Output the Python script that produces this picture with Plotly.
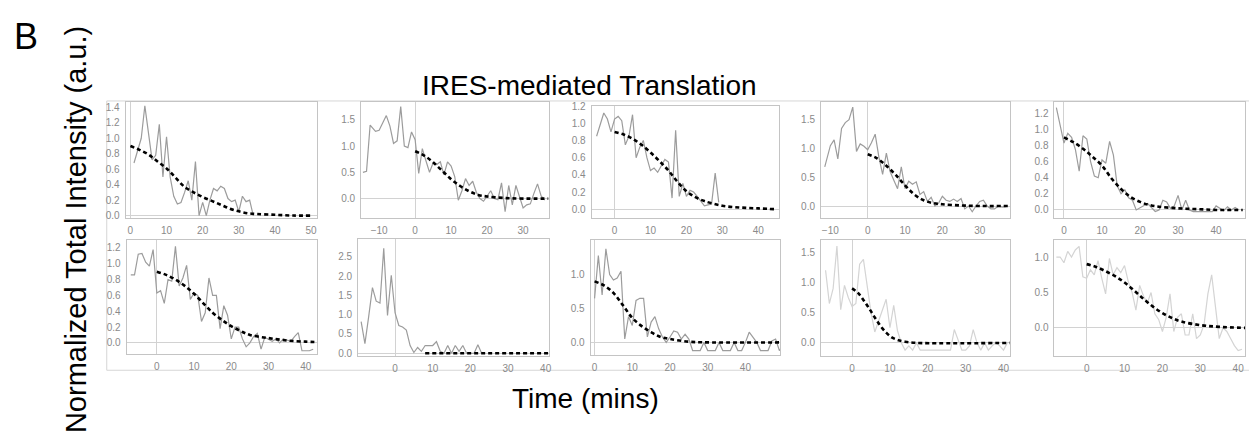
import plotly.graph_objects as go

W, H = 1249, 434

# ---------------- data ----------------
# panel 1
t1 = [1, 2, 3, 4, 5, 6, 7, 8, 9, 10, 11, 12, 13, 14, 15, 16, 17, 18, 19, 20, 21, 22, 23, 24, 25, 26, 27, 28, 29, 30, 31, 32, 33, 34]
y1 = [0.68, 0.85, 1.0, 1.42, 1.05, 0.72, 0.78, 1.18, 0.5, 1.02, 0.5, 0.25, 0.15, 0.17, 0.3, 0.45, 0.2, 0.7, 0.0, 0.17, 0.0, 0.2, 0.35, 0.32, 0.38, 0.35, 0.22, 0.18, 0.2, 0.05, 0.25, 0.18, 0.2, 0.0]
ft1 = [0, 2.5, 5, 7.5, 10, 12.5, 15, 17.5, 20, 22.5, 25, 27.5, 30, 32.5, 35, 40, 45, 50]
fy1 = [0.9, 0.85, 0.79, 0.7, 0.61, 0.49, 0.37, 0.3, 0.24, 0.19, 0.14, 0.09, 0.055, 0.03, 0.02, 0.01, 0.0, 0.0]

# panel 2
t2 = [-14.5, -13.5, -12.5, -11, -10, -9, -8, -7, -6, -5, -4, -3, -2, -1, 0, 1, 2, 3, 4, 5, 6, 7, 8, 9, 10, 11, 12, 13, 14, 15, 16, 17, 18, 19, 20, 21, 22, 23, 24, 25, 26, 27, 28, 29, 30, 31, 32, 33, 34, 35, 36]
y2 = [0.5, 0.52, 1.4, 1.28, 1.3, 1.45, 1.58, 1.38, 1.05, 1.1, 1.75, 1.0, 0.97, 1.27, 1.12, 0.48, 0.95, 0.72, 0.5, 0.68, 0.65, 0.7, 0.45, 0.7, 0.62, 0.42, -0.03, 0.15, 0.38, 0.25, 0.33, 0.12, 0.0, -0.05, 0.05, 0.15, 0.0, -0.02, 0.3, -0.25, 0.25, -0.12, 0.25, 0.05, -0.18, -0.12, -0.1, 0.1, 0.28, 0.05, -0.03]
ft2 = [0, 2.5, 5, 7.5, 10, 12.5, 15, 17.5, 20, 25, 30, 37]
fy2 = [0.9, 0.82, 0.69, 0.53, 0.37, 0.24, 0.14, 0.07, 0.04, 0.01, 0.0, 0.0]

# panel 3
t3 = [-5, -4, -3, -2, -1, 0, 1, 2, 3, 4, 5, 6, 7, 8, 9, 10, 11, 12, 13, 14, 15, 16, 17, 18, 19, 20, 21, 22, 23, 24, 25, 26, 27, 28, 29]
y3 = [0.85, 1.0, 1.12, 1.05, 0.9, 1.05, 1.08, 1.03, 0.75, 0.85, 1.1, 0.6, 0.72, 0.8, 0.6, 0.45, 0.48, 0.43, 0.5, 0.58, 0.55, 0.13, 0.92, 0.15, 0.3, 0.15, 0.22, 0.2, 0.15, 0.1, 0.04, 0.05, 0.06, 0.42, 0.08]
ft3 = [0, 2.5, 5, 7.5, 10, 12.5, 15, 17.5, 20, 22.5, 25, 30, 35, 40, 45]
fy3 = [0.9, 0.87, 0.82, 0.75, 0.66, 0.56, 0.45, 0.32, 0.21, 0.14, 0.095, 0.04, 0.02, 0.01, 0.0]

# panel 4
t4 = [-11.5, -10, -9, -8, -7, -6, -5, -4, -3, -2, -1, 0, 1, 2, 3, 4, 5, 6, 7, 8, 9, 10, 11, 12, 13, 14, 15, 16, 17, 18, 19, 20, 21, 22, 23, 24, 25, 26, 27, 28, 29, 30, 31, 32, 33, 34, 35, 36, 37]
y4 = [0.68, 1.05, 1.15, 0.82, 1.35, 1.45, 1.5, 1.72, 0.95, 1.08, 1.04, 0.98, 1.1, 1.25, 0.85, 0.55, 0.92, 0.6, 0.45, 0.3, 0.68, 0.3, 0.43, 0.38, 0.42, 0.2, 0.25, 0.08, 0.15, 0.0, 0.05, 0.17, 0.1, 0.08, 0.12, 0.08, 0.13, -0.05, 0.0, -0.1, 0.0, 0.08, 0.1, 0.0, -0.05, -0.05, 0.0, -0.02, -0.01]
ft4 = [0, 2.5, 5, 7.5, 10, 12.5, 15, 17.5, 20, 25, 30, 38]
fy4 = [0.9, 0.83, 0.7, 0.54, 0.36, 0.2, 0.1, 0.05, 0.03, 0.01, 0.0, 0.0]

# panel 5
t5 = [-2, -1, 0, 1, 2, 3, 4, 5, 6, 7, 8, 9, 10, 11, 12, 13, 14, 15, 16, 17, 18, 19, 20, 21, 22, 23, 24, 25, 26, 27, 28, 29, 30, 31, 32, 33, 34, 35, 36, 37, 38, 39, 40, 41, 42, 43, 44, 45, 46]
y5 = [1.27, 1.05, 0.83, 0.95, 0.9, 0.75, 0.48, 0.92, 0.88, 0.6, 0.42, 0.4, 0.62, 0.58, 0.85, 0.68, 0.3, 0.2, 0.25, 0.15, 0.12, 0.0, 0.03, 0.06, 0.08, 0.03, -0.02, 0.0, 0.12, 0.1, 0.02, 0.05, 0.18, 0.0, 0.12, 0.0, -0.02, -0.02, -0.02, -0.02, -0.02, -0.02, 0.05, 0.02, -0.01, 0.04, 0.0, 0.03, 0.0]
ft5 = [0, 2.5, 5, 7.5, 10, 12.5, 15, 17.5, 20, 22.5, 25, 30, 35, 40, 47]
fy5 = [0.9, 0.84, 0.76, 0.66, 0.55, 0.39, 0.26, 0.16, 0.1, 0.06, 0.04, 0.02, 0.01, 0.0, 0.0]

# panel 6
t6 = [-7, -6, -5, -4, -3, -2, -1, 0, 1, 2, 3, 4, 5, 6, 7, 8, 9, 10, 11, 12, 13, 14, 15, 16, 17, 18, 19, 20, 21, 22, 23, 24, 25, 26, 27, 28, 29, 30, 31, 32, 33, 34, 35, 36, 37, 38, 39, 40, 41, 42]
y6 = [0.86, 0.86, 1.12, 1.13, 1.02, 0.97, 1.18, 0.63, 0.66, 0.5, 0.8, 0.78, 1.22, 0.72, 0.82, 0.98, 0.55, 0.63, 0.6, 0.27, 0.38, 0.82, 0.6, 0.6, 0.18, 0.47, 0.35, 0.05, 0.2, 0.2, 0.05, -0.05, 0.0, 0.08, 0.12, -0.08, 0.07, 0.05, 0.02, 0.05, 0.0, 0.05, 0.03, 0.02, 0.08, 0.13, -0.1, -0.1, -0.1, -0.08]
ft6 = [0, 2.5, 5, 7.5, 10, 12.5, 15, 17.5, 20, 22.5, 25, 30, 35, 40, 43]
fy6 = [0.9, 0.86, 0.8, 0.72, 0.62, 0.5, 0.38, 0.29, 0.21, 0.15, 0.1, 0.06, 0.03, 0.015, 0.01]

# panel 7
t7 = [-9, -8, -7, -6, -5, -4, -3, -2, -1, 0, 1, 2, 3, 4, 5, 6, 7, 8, 9, 10, 11, 12, 13, 14, 15, 16, 17, 18, 19, 20, 21, 22, 23]
y7 = [0.82, 0.25, 0.95, 1.7, 1.35, 1.3, 2.72, 0.98, 2.02, 1.05, 0.72, 0.68, 0.6, 0.2, 0.02, 0.15, 0.05, 0.2, 0.2, 0.2, 0.3, 0.05, 0.0, 0.2, 0.0, 0.2, 0.05, 0.2, 0.0, 0.0, 0.0, 0.22, 0.0]
ft7 = [8, 15, 20, 25, 30, 35, 41]
fy7 = [0.0, 0.0, 0.0, 0.0, 0.0, 0.0, 0.0]

# panel 8
t8 = [0, 1, 2, 3, 4, 5, 6, 7, 8, 9, 10, 11, 12, 13, 14, 15, 16, 17, 18, 19, 20, 21, 22, 23, 24, 25, 26, 27, 28, 29, 30, 31, 32, 33, 34, 35, 36, 37, 38, 39, 40, 41, 42, 43, 44, 45, 46, 47, 48, 49, 50]
y8 = [0.65, 1.28, 0.7, 1.38, 1.0, 0.92, 0.95, 1.05, 0.05, 0.38, 0.25, 0.62, 0.65, 0.65, 0.08, 0.3, 0.38, 0.2, 0.08, 0.0, 0.08, 0.17, 0.15, 0.05, 0.12, 0.05, -0.12, -0.12, -0.12, 0.0, -0.12, -0.12, -0.12, 0.0, -0.12, -0.12, -0.12, 0.0, -0.12, -0.12, 0.0, 0.15, 0.08, 0.0, -0.12, -0.12, -0.12, 0.02, 0.05, -0.12, -0.05]
ft8 = [0, 2.5, 5, 7.5, 10, 12.5, 15, 17.5, 20, 25, 30, 50]
fy8 = [0.9, 0.84, 0.73, 0.55, 0.36, 0.24, 0.15, 0.08, 0.05, 0.01, 0.0, 0.0]

# panel 9
t9 = [-7, -6, -5, -4, -3, -2, -1, 0, 1, 2, 3, 4, 5, 6, 7, 8, 9, 10, 11, 12, 13, 14, 15, 16, 17, 18, 19, 20, 21, 22, 23, 24, 25, 26, 27, 28, 29, 30, 31, 32, 33, 34, 35, 36, 37, 38, 39, 40, 41]
y9 = [1.2, 0.65, 0.9, 1.6, 0.55, 0.95, 0.75, 0.6, 0.65, 1.3, 1.38, 0.95, 0.5, 0.18, 0.35, 0.55, 0.72, 0.25, 0.62, 0.2, 0.0, -0.12, -0.05, -0.12, 0.0, -0.12, -0.12, -0.12, -0.12, -0.12, -0.12, -0.12, -0.12, -0.12, 0.22, 0.05, -0.12, -0.12, -0.05, 0.22, 0.0, -0.12, 0.0, -0.12, -0.05, 0.0, -0.05, -0.12, 0.0]
ft9 = [0, 1.5, 3, 4.5, 6, 7.5, 9, 10.5, 12, 14, 17, 42]
fy9 = [0.9, 0.83, 0.71, 0.57, 0.42, 0.28, 0.17, 0.09, 0.05, 0.02, 0.0, 0.0]

# panel 10
t10 = [-8, -7, -6, -5, -4, -3, -2, -1, 0, 1, 2, 3, 4, 5, 6, 7, 8, 9, 10, 11, 12, 13, 14, 15, 16, 17, 18, 19, 20, 21, 22, 23, 24, 25, 26, 27, 28, 29, 30, 31, 32, 33, 34, 35, 36, 37, 38, 39, 40, 41]
y10 = [1.0, 1.0, 0.92, 1.08, 1.0, 1.1, 1.15, 0.72, 0.7, 0.82, 0.75, 0.95, 0.7, 0.48, 0.98, 0.75, 0.85, 0.78, 0.88, 0.65, 0.5, 0.25, 0.6, 0.45, 0.35, 0.5, 0.2, 0.12, -0.05, 0.15, 0.48, -0.05, 0.15, 0.2, -0.1, -0.1, 0.2, -0.15, -0.1, 0.05, 0.48, 0.75, 0.3, -0.15, 0.0, -0.05, -0.15, -0.25, -0.32, -0.3]
ft10 = [0, 2.5, 5, 7.5, 10, 12.5, 15, 17.5, 20, 22.5, 25, 30, 35, 42]
fy10 = [0.9, 0.86, 0.8, 0.73, 0.64, 0.53, 0.41, 0.3, 0.21, 0.14, 0.09, 0.04, 0.015, 0.0]

# tick labels
xt_0_50 = [0, 10, 20, 30, 40, 50]
xt_0_40 = [0, 10, 20, 30, 40]
xt_m10_30 = [-10, 0, 10, 20, 30]
yt_02_14 = [0.0, 0.2, 0.4, 0.6, 0.8, 1.0, 1.2, 1.4]
yt_02_12 = [0.0, 0.2, 0.4, 0.6, 0.8, 1.0, 1.2]
yt_05_15 = [0.0, 0.5, 1.0, 1.5]
yt_05_25 = [0.0, 0.5, 1.0, 1.5, 2.0, 2.5]
yt_05_10 = [0.0, 0.5, 1.0]

# text
panel_letter = "B"
title_text = "IRES-mediated Translation"
x_title = "Time (mins)"
y_title = "Normalized Total Intensity (a.u.)"

# ---------------- styling / layout ----------------
DARK = "#9c9c9c"
LIGHT = "#d4d4d4"
FRAME = "#c4c4c4"
ZERO = "#d2d2d2"
TICK = "#8a8a8a"
SANS = "Liberation Sans, Arial"

panels = [
    dict(t=t1, y=y1, ft=ft1, fy=fy1, xr=[-1.3, 51.7], yr=[-0.025, 1.47], xt=xt_0_50, yt=yt_02_14, box=(126, 318, 99, 217), c=DARK),
    dict(t=t2, y=y2, ft=ft2, fy=fy2, xr=[-15.0, 37.1], yr=[-0.36, 1.84], xt=xt_m10_30, yt=yt_05_15, box=(362, 550, 99, 217), c=DARK),
    dict(t=t3, y=y3, ft=ft3, fy=fy3, xr=[-6.4, 45.8], yr=[-0.096, 1.203], xt=xt_0_40, yt=yt_02_12, box=(593, 781, 103, 217), c=DARK),
    dict(t=t4, y=y4, ft=ft4, fy=fy4, xr=[-12.5, 38.0], yr=[-0.2, 1.81], xt=xt_m10_30, yt=yt_05_15, box=(823, 1012, 99, 217), c=DARK),
    dict(t=t5, y=y5, ft=ft5, fy=fy5, xr=[-2.5, 47.6], yr=[-0.094, 1.34], xt=xt_0_40, yt=yt_02_12, box=(1057, 1248, 99, 217), c=DARK),
    dict(t=t6, y=y6, ft=ft6, fy=fy6, xr=[-8.1, 43.1], yr=[-0.136, 1.30], xt=xt_0_40, yt=yt_02_12, box=(127, 318, 240, 356), c=DARK),
    dict(t=t7, y=y7, ft=ft7, fy=fy7, xr=[-9.8, 40.8], yr=[-0.06, 2.96], xt=xt_0_40, yt=yt_05_25, box=(359, 550, 239, 358), c=DARK),
    dict(t=t8, y=y8, ft=ft8, fy=fy8, xr=[-1.06, 49.2], yr=[-0.18, 1.51], xt=xt_0_40, yt=yt_05_10, box=(592, 782, 240, 357), c=DARK),
    dict(t=t9, y=y9, ft=ft9, fy=fy9, xr=[-8.2, 41.6], yr=[-0.21, 1.70], xt=xt_0_40, yt=yt_05_15, box=(823, 1012, 240, 358), c=LIGHT),
    dict(t=t10, y=y10, ft=ft10, fy=fy10, xr=[-8.5, 41.8], yr=[-0.39, 1.24], xt=xt_0_40, yt=yt_05_10, box=(1057, 1248, 240, 358), c=LIGHT),
]

fig = go.Figure()
layout = {}
for i, p in enumerate(panels, 1):
    sx = "" if i == 1 else str(i)
    xa, ya = "x" + sx, "y" + sx
    fig.add_trace(go.Scatter(x=p["t"], y=p["y"], mode="lines", xaxis=xa, yaxis=ya,
                             line=dict(color=p["c"], width=1.2), showlegend=False, hoverinfo="skip"))
    fig.add_trace(go.Scatter(x=p["ft"], y=p["fy"], mode="lines", xaxis=xa, yaxis=ya,
                             line=dict(color="black", width=2.6, dash="4px,3px", shape="spline", smoothing=1.0),
                             showlegend=False, hoverinfo="skip"))
    x0, x1, yt_, yb_ = p["box"]
    common = dict(showline=True, mirror=True, linecolor=FRAME, linewidth=1, showgrid=False,
                  zeroline=True, zerolinecolor=ZERO, zerolinewidth=1, ticks="",
                  tickfont=dict(size=10, color=TICK, family=SANS), ticklabelstandoff=3,
                  fixedrange=True)
    layout["xaxis" + sx] = dict(domain=[x0 / W, x1 / W], range=p["xr"], anchor=ya,
                                tickvals=p["xt"], **common)
    layout["yaxis" + sx] = dict(domain=[1 - yb_ / H, 1 - yt_ / H], range=p["yr"], anchor=xa,
                                tickvals=p["yt"], tickformat=".1f", **common)

fig.update_layout(**layout)
fig.update_layout(
    width=W, height=H, margin=dict(l=0, r=0, t=0, b=0),
    paper_bgcolor="white", plot_bgcolor="white",
    shapes=[dict(type="rect", xref="paper", yref="paper", x0=107 / W, x1=1.02,
                 y0=1 - 373 / H, y1=1 - 98 / H, line=dict(color="#d6d6d6", width=1), layer="below")],
    annotations=[
        dict(text=panel_letter, x=12 / W, y=1 - 9 / H, xref="paper", yref="paper", xanchor="left", yanchor="top",
             showarrow=False, font=dict(size=36, color="black", family=SANS)),
        dict(text=title_text, x=591 / W, y=1 - 82 / H, xref="paper", yref="paper", xanchor="center", yanchor="middle",
             showarrow=False, font=dict(size=28, color="black", family=SANS)),
        dict(text=x_title, x=587 / W, y=1 - 402 / H, xref="paper", yref="paper", xanchor="center", yanchor="middle",
             showarrow=False, font=dict(size=28, color="black", family=SANS)),
        dict(text=y_title, x=76 / W, y=1 - 229 / H, xref="paper", yref="paper", xanchor="center", yanchor="middle",
             textangle=-90, showarrow=False, font=dict(size=29, color="black", family=SANS)),
    ],
)

fig.write_html("out.html")
